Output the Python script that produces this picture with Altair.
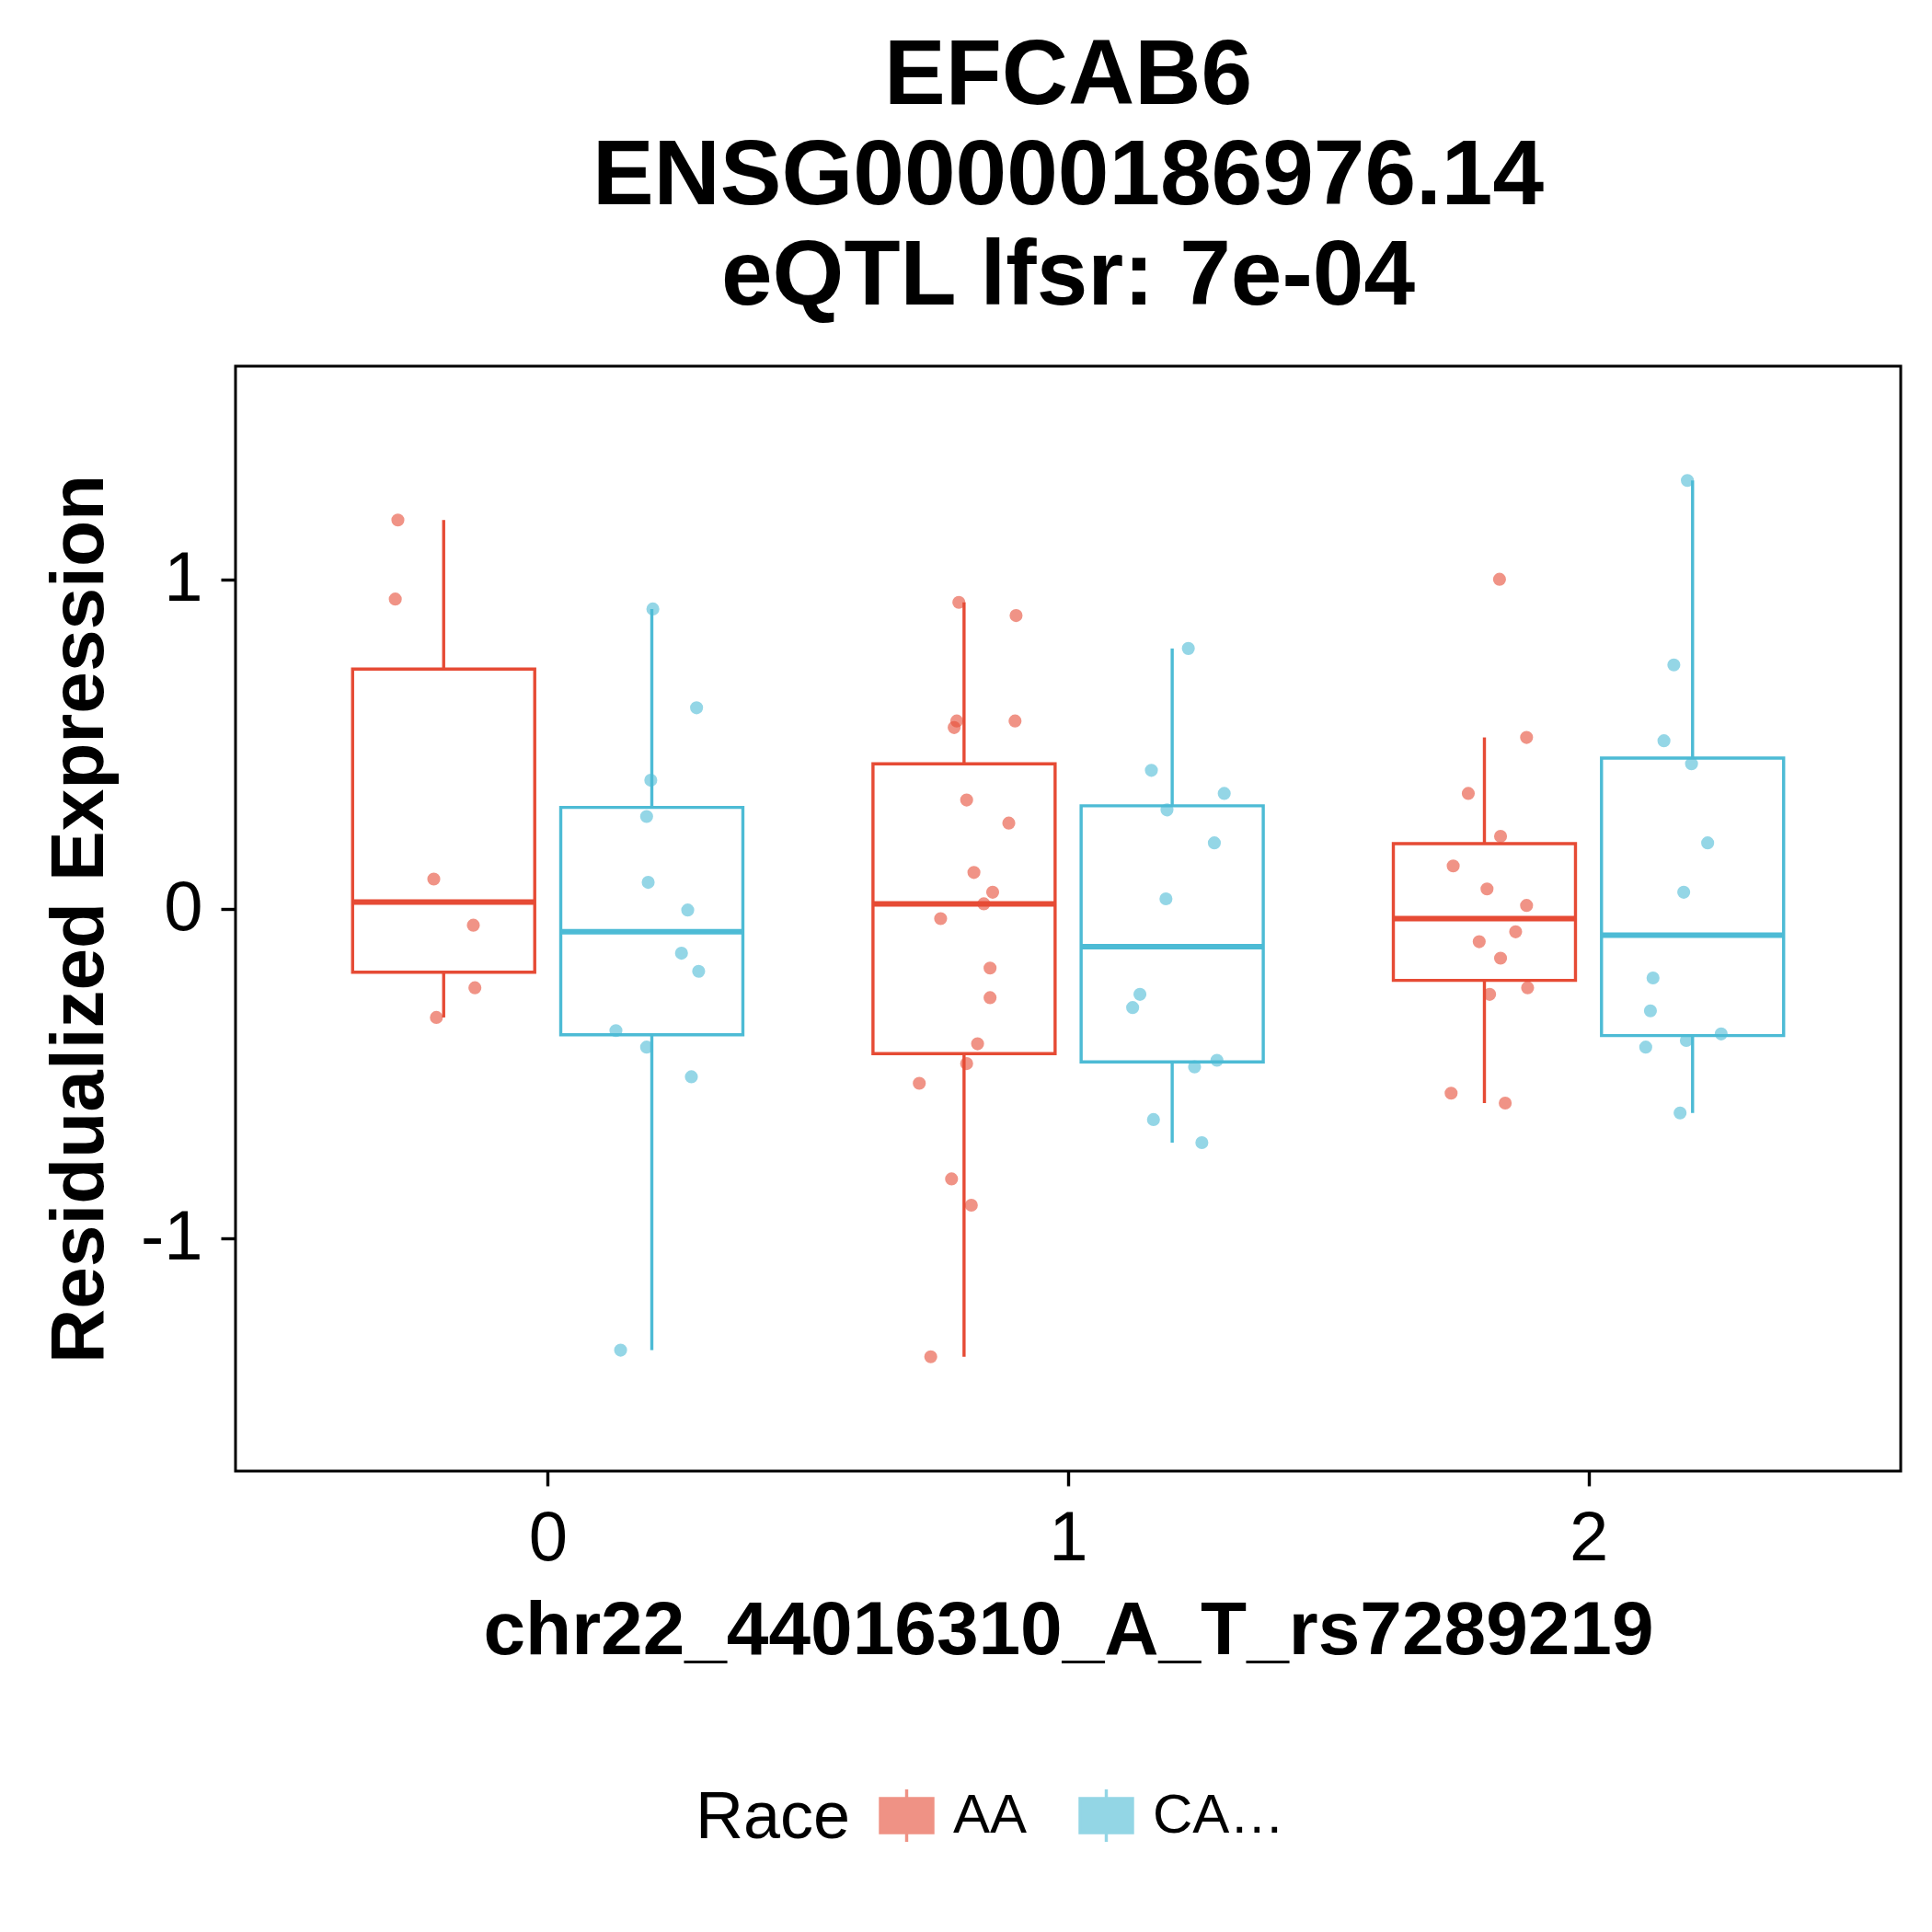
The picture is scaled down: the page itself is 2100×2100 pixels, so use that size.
import altair as alt
import pandas as pd
import numpy as np

races = ["AA", "CAUC"]
colors = ["#E64B35", "#4DBBD5"]
genotypes = [0, 1, 2]
race_offset = {"AA": -0.2, "CAUC": 0.2}

# jittered x offsets (relative to genotype) and residualized expression
g0_aa_dx = [-0.288, -0.293, -0.219, -0.143, -0.140, -0.214]
g0_aa_y = [1.18, 0.94, 0.09, -0.05, -0.24, -0.33]
g0_ca_dx = [0.202, 0.286, 0.198, 0.190, 0.193, 0.269, 0.257, 0.290, 0.131, 0.190, 0.276, 0.140]
g0_ca_y = [0.91, 0.61, 0.39, 0.28, 0.08, -0.004, -0.135, -0.19, -0.37, -0.42, -0.51, -1.34]
g1_aa_dx = [-0.210, -0.100, -0.214, -0.102, -0.219, -0.195, -0.114, -0.181, -0.145, -0.162,
            -0.245, -0.150, -0.150, -0.174, -0.195, -0.286, -0.224, -0.186, -0.264]
g1_aa_y = [0.93, 0.89, 0.57, 0.57, 0.55, 0.33, 0.26, 0.11, 0.05, 0.015,
           -0.03, -0.18, -0.27, -0.41, -0.47, -0.53, -0.82, -0.90, -1.36]
g1_ca_dx = [0.231, 0.160, 0.300, 0.190, 0.281, 0.188, 0.138, 0.124, 0.243, 0.286, 0.164, 0.257]
g1_ca_y = [0.79, 0.42, 0.35, 0.30, 0.20, 0.03, -0.26, -0.30, -0.48, -0.46, -0.64, -0.71]
g2_aa_dx = [-0.171, -0.119, -0.231, -0.169, -0.260, -0.195, -0.119, -0.140, -0.210, -0.169,
            -0.190, -0.117, -0.264, -0.160]
g2_aa_y = [1.00, 0.52, 0.35, 0.22, 0.13, 0.06, 0.01, -0.07, -0.10, -0.15, -0.26, -0.24, -0.56, -0.59]
g2_ca_dx = [0.190, 0.164, 0.145, 0.198, 0.229, 0.183, 0.124, 0.119, 0.255, 0.188, 0.110, 0.176]
g2_ca_y = [1.30, 0.74, 0.51, 0.44, 0.20, 0.05, -0.21, -0.31, -0.38, -0.40, -0.42, -0.62]

groups = [
    (0, "AA", g0_aa_dx, g0_aa_y), (0, "CAUC", g0_ca_dx, g0_ca_y),
    (1, "AA", g1_aa_dx, g1_aa_y), (1, "CAUC", g1_ca_dx, g1_ca_y),
    (2, "AA", g2_aa_dx, g2_aa_y), (2, "CAUC", g2_ca_dx, g2_ca_y),
]

pts, boxes = [], []
half = 0.175
for g, r, dxs, ys in groups:
    for dx, y in zip(dxs, ys):
        pts.append({"x": g + dx, "y": y, "Race": r})
    a = np.array(ys)
    q1, med, q3 = np.percentile(a, [25, 50, 75])
    iqr = q3 - q1
    lo = a[a >= q1 - 1.5 * iqr].min()
    hi = a[a <= q3 + 1.5 * iqr].max()
    c = g + race_offset[r]
    boxes.append({"c": c, "l": c - half, "r": c + half, "q1": q1, "med": med,
                  "q3": q3, "lo": lo, "hi": hi, "Race": r})

pdf = pd.DataFrame(pts)
bdf = pd.DataFrame(boxes)

xs = alt.Scale(domain=[-0.6, 2.6], nice=False, zero=False)
ys_ = alt.Scale(domain=[-1.707, 1.647], nice=False, zero=False)
leg = alt.Legend(
    title="Race", orient="none", direction="horizontal",
    titleOrient="left", legendX=500, legendY=1545,
    titleFontSize=72, titleFontWeight="normal", titleColor="black",
    labelFontSize=60, labelColor="black", titlePadding=30,
    symbolType="M-1,-0.65H1V0.65H-1Z M0,-1V-0.65 M0,0.65V1",
    symbolSize=3250, symbolStrokeWidth=3.4, symbolFillColor="transparent",
    labelOffset=20, columnPadding=50)
cscale = alt.Scale(domain=races, range=colors)
col = alt.Color("Race:N", scale=cscale, legend=leg)

xaxis = alt.Axis(values=[0, 1, 2], format="d", grid=False, tickSize=16, tickWidth=3.4,
                 tickColor="black", labelFontSize=76, labelColor="black", labelPadding=20,
                 title="chr22_44016310_A_T_rs7289219", titleFontSize=82,
                 titleFontWeight="bold", titleColor="black", titlePadding=22, domain=False)
yaxis = alt.Axis(values=[-1, 0, 1], grid=False, tickSize=16, tickWidth=3.4,
                 labelExpr="replace(format(datum.value, 'd'), '\u2212', '-')",
                 tickColor="black", labelFontSize=76, labelColor="black", labelPadding=20,
                 title="Residualized Expression", titleFontSize=82,
                 titleFontWeight="bold", titleColor="black", titlePadding=24, domain=False)

base_b = alt.Chart(bdf)
rect = base_b.mark_rect(filled=False, strokeWidth=3.4).encode(
    x=alt.X("l:Q", scale=xs, axis=xaxis), x2="r:Q",
    y=alt.Y("q1:Q", scale=ys_, axis=yaxis), y2="q3:Q", color=col)
med = base_b.mark_rule(strokeWidth=6).encode(
    x=alt.X("l:Q", scale=xs), x2="r:Q", y=alt.Y("med:Q", scale=ys_), color=col)
wlo = base_b.mark_rule(strokeWidth=3.4).encode(
    x=alt.X("c:Q", scale=xs), y=alt.Y("lo:Q", scale=ys_), y2="q1:Q", color=col)
whi = base_b.mark_rule(strokeWidth=3.4).encode(
    x=alt.X("c:Q", scale=xs), y=alt.Y("q3:Q", scale=ys_), y2="hi:Q", color=col)
points = alt.Chart(pdf).mark_circle(size=200, opacity=0.6).encode(
    x=alt.X("x:Q", scale=xs), y=alt.Y("y:Q", scale=ys_), color=col)

chart = alt.layer(rect, wlo, whi, med, points).properties(
    width=1810, height=1201,
    autosize=alt.AutoSizeParams(type="none"),
    padding={"left": 248, "top": 390, "right": 26, "bottom": 490},
    title=alt.TitleParams(
        text=["EFCAB6", "ENSG00000186976.14", "eQTL lfsr: 7e-04"],
        fontSize=100, fontWeight="bold", color="black", anchor="middle",
        lineHeight=109, offset=46, font="Liberation Sans"),
).configure(font="Liberation Sans").configure_view(stroke="black", strokeWidth=3)

chart.save("out.html", embed_options={"renderer": "svg", "actions": False})
